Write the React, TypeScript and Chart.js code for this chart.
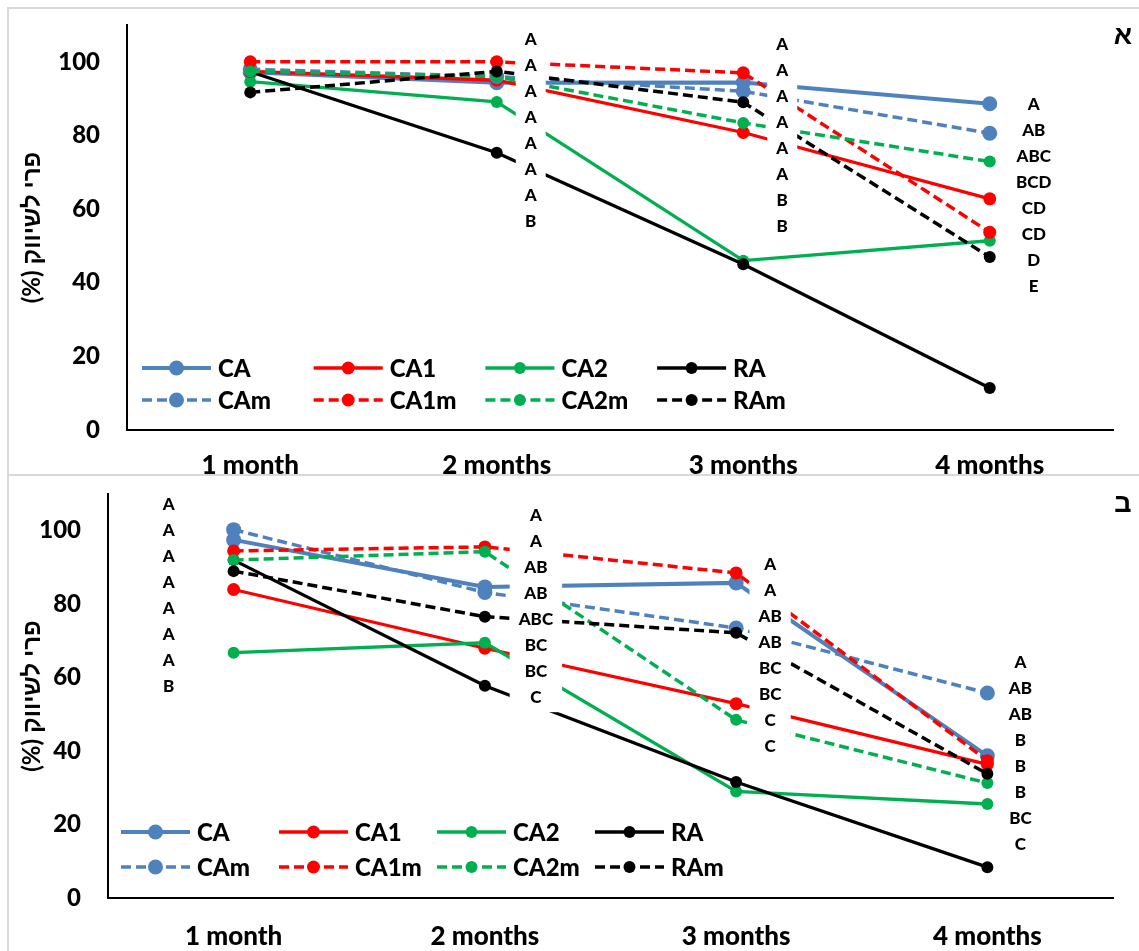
import React, { useEffect, useRef } from 'react';
import { Chart, registerables } from 'chart.js';

Chart.register(...registerables);

// ---------- data ----------
const categories = ['1 month', '2 months', '3 months', '4 months'];
const seriesNames = ['CA', 'CA1', 'CA2', 'RA', 'CAm', 'CA1m', 'CA2m', 'RAm'];
const yTickValues = [0, 20, 40, 60, 80, 100];
const yAxisTitle = 'פרי לשיווק (%)';
const panelALabel = 'א';
const panelBLabel = 'ב';

// Panel א
const aCA = [97.2, 94.3, 94.4, 88.6];
const aCA1 = [97.4, 95.0, 80.8, 62.8];
const aCA2 = [94.6, 89.1, 46.0, 51.4];
const aRA = [97.3, 75.3, 45.0, 11.4];
const aCAm = [98.0, 96.0, 92.0, 80.6];
const aCA1m = [100, 100, 97.0, 53.7];
const aCA2m = [97.4, 96.0, 83.4, 72.9];
const aRAm = [91.7, 97.4, 89.0, 47.0];

// Panel ב
const bCA = [97.5, 84.7, 85.8, 38.7];
const bCA1 = [84.0, 68.0, 52.9, 36.4];
const bCA2 = [66.8, 69.5, 29.0, 25.6];
const bRA = [92.0, 57.8, 31.6, 8.4];
const bCAm = [100.3, 83.2, 73.5, 55.8];
const bCA1m = [94.5, 95.6, 88.5, 37.4];
const bCA2m = [92.0, 94.3, 48.5, 31.3];
const bRAm = [89.0, 76.6, 72.2, 33.8];

// significance letters
const aLetters2 = ['A', 'A', 'A', 'A', 'A', 'A', 'A', 'B'];
const aLetters3 = ['A', 'A', 'A', 'A', 'A', 'A', 'B', 'B'];
const aLetters4 = ['A', 'AB', 'ABC', 'BCD', 'CD', 'CD', 'D', 'E'];
const bLetters1 = ['A', 'A', 'A', 'A', 'A', 'A', 'A', 'B'];
const bLetters2 = ['A', 'A', 'AB', 'AB', 'ABC', 'BC', 'BC', 'C'];
const bLetters3 = ['A', 'A', 'AB', 'AB', 'BC', 'BC', 'C', 'C'];
const bLetters4 = ['A', 'AB', 'AB', 'B', 'B', 'B', 'BC', 'C'];

// ---------- styles ----------
const FONT = 'Lato, "Liberation Sans", "DejaVu Sans", sans-serif';
const W = 900;
const seriesColors = ['#4f81bd', '#ff0000', '#00b050', '#000000', '#4f81bd', '#ff0000', '#00b050', '#000000'];
const seriesDashed = [false, false, false, false, true, true, true, true];
const seriesPointRadius = [7.5, 6.5, 6, 6, 7.5, 6.5, 6, 6];
const seriesLineWidth = [4, 3.3, 3.3, 3.3, 3.5, 3.5, 3.5, 3.5];
const DASH = [10, 5];

type LetterGroup = { index: number; letters: string[]; anchor: number; dx: number };

type PanelDef = {
  series: number[][];
  corner: string;
  height: number;
  top: number;
  padTop: number;
  yWidth: number;
  xHeight: number;
  xPad: number;
  groups: LetterGroup[];
  legend: { left: number; colWidth: number; rows: number[] };
};

const panelA: PanelDef = {
  series: [aCA, aCA1, aCA2, aRA, aCAm, aCA1m, aCA2m, aRAm],
  corner: panelALabel,
  height: 467,
  top: 8,
  padTop: 17,
  yWidth: 119,
  xHeight: 45,
  xPad: 20,
  groups: [
    { index: 1, letters: aLetters2, anchor: 106, dx: 34 },
    { index: 2, letters: aLetters3, anchor: 104.6, dx: 39 },
    { index: 3, letters: aLetters4, anchor: 88.3, dx: 44 },
  ],
  legend: { left: 15, colWidth: 171.7, rows: [-62, -30] },
};

const panelB: PanelDef = {
  series: [bCA, bCA1, bCA2, bRA, bCAm, bCA1m, bCA2m, bRAm],
  corner: panelBLabel,
  height: 475,
  top: 476,
  padTop: 18,
  yWidth: 100,
  xHeight: 53,
  xPad: 23,
  groups: [
    { index: 0, letters: bLetters1, anchor: 107.1, dx: -65 },
    { index: 1, letters: bLetters2, anchor: 104.1, dx: 51 },
    { index: 2, letters: bLetters3, anchor: 90.7, dx: 34 },
    { index: 3, letters: bLetters4, anchor: 64.0, dx: 33 },
  ],
  legend: { left: 13, colWidth: 158, rows: [-66, -31] },
};

function makePlugins(p: PanelDef) {
  const letters = {
    id: 'letters',
    afterDatasetsDraw(chart: any) {
      const { ctx, scales } = chart;
      const x = scales.x;
      const y = scales.y;
      const fs = 17;
      const step = 26;
      ctx.save();
      ctx.font = `${W} ${fs}px ${FONT}`;
      for (const g of p.groups) {
        const cx = x.getPixelForValue(g.index) + g.dx;
        const y0 = y.getPixelForValue(g.anchor);
        const widest = Math.max(...g.letters.map((l) => ctx.measureText(l).width));
        const w = widest + 18;
        const h = (g.letters.length - 1) * step + fs + 12;
        ctx.fillStyle = '#ffffff';
        ctx.fillRect(cx - w / 2, y0 - fs / 2 - 6, w, h);
        ctx.fillStyle = '#000000';
        ctx.textAlign = 'center';
        ctx.textBaseline = 'middle';
        g.letters.forEach((l, i) => ctx.fillText(l, cx, y0 + i * step));
      }
      ctx.restore();
    },
  };

  const legend = {
    id: 'innerLegend',
    afterDatasetsDraw(chart: any) {
      const { ctx, chartArea } = chart;
      const lineLen = 69;
      chart.data.datasets.forEach((ds: any, i: number) => {
        const col = i % 4;
        const row = Math.floor(i / 4);
        const x0 = chartArea.left + p.legend.left + col * p.legend.colWidth;
        const yy = chartArea.bottom + p.legend.rows[row];
        ctx.save();
        ctx.strokeStyle = ds.borderColor;
        ctx.lineWidth = ds.borderWidth;
        ctx.setLineDash(ds.borderDash || []);
        ctx.beginPath();
        ctx.moveTo(x0, yy);
        ctx.lineTo(x0 + lineLen, yy);
        ctx.stroke();
        ctx.setLineDash([]);
        ctx.fillStyle = ds.pointBackgroundColor;
        ctx.beginPath();
        ctx.arc(x0 + lineLen / 2, yy, ds.pointRadius, 0, Math.PI * 2);
        ctx.fill();
        ctx.fillStyle = '#000000';
        ctx.font = `${W} 24px ${FONT}`;
        ctx.textAlign = 'left';
        ctx.textBaseline = 'middle';
        ctx.fillText(ds.label, x0 + lineLen + 7, yy + 1);
        ctx.restore();
      });
    },
  };

  const decor = {
    id: 'decor',
    afterDraw(chart: any) {
      const { ctx, chartArea, width } = chart;
      ctx.save();
      // y axis title (RTL)
      ctx.translate(24, (chartArea.top + chartArea.bottom) / 2);
      ctx.rotate(-Math.PI / 2);
      ctx.direction = 'rtl';
      ctx.textAlign = 'center';
      ctx.textBaseline = 'middle';
      ctx.fillStyle = '#000000';
      ctx.font = `bold 24px ${FONT}`;
      ctx.fillText(yAxisTitle, 0, 0);
      ctx.restore();
      // panel label
      ctx.save();
      ctx.direction = 'rtl';
      ctx.textAlign = 'center';
      ctx.textBaseline = 'middle';
      ctx.fillStyle = '#000000';
      ctx.font = `bold 27px "Liberation Sans", "DejaVu Sans", sans-serif`;
      ctx.fillText(p.corner, width - 16, 29);
      ctx.restore();
    },
  };
  return [letters, legend, decor];
}

function buildConfig(p: PanelDef): any {
  const datasets = p.series.map((vals, i) => ({
    label: seriesNames[i],
    data: vals,
    borderColor: seriesColors[i],
    backgroundColor: seriesColors[i],
    pointBackgroundColor: seriesColors[i],
    pointBorderColor: seriesColors[i],
    pointBorderWidth: 0,
    pointRadius: seriesPointRadius[i],
    pointHoverRadius: seriesPointRadius[i],
    borderWidth: seriesLineWidth[i],
    borderDash: seriesDashed[i] ? DASH : [],
    tension: 0,
    fill: false,
    order: seriesNames.length - i,
  }));

  return {
    type: 'line',
    data: { labels: categories, datasets },
    options: {
      responsive: false,
      maintainAspectRatio: false,
      animation: false,
      events: [],
      layout: { padding: { left: 0, right: 26, top: p.padTop, bottom: 0 } },
      plugins: {
        legend: { display: false },
        tooltip: { enabled: false },
        title: { display: false },
      },
      scales: {
        x: {
          type: 'category',
          offset: true,
          grid: { display: false, drawTicks: false },
          border: { display: true, color: '#000000', width: 2 },
          ticks: {
            color: '#000000',
            font: { family: FONT, size: 26, weight: W },
            padding: p.xPad,
            maxRotation: 0,
            autoSkip: false,
          },
          afterFit: (s: any) => {
            s.height = p.xHeight;
            s.paddingLeft = 0;
            s.paddingRight = 0;
          },
        },
        y: {
          type: 'linear',
          min: 0,
          max: 110,
          grid: { display: false, drawTicks: false },
          border: { display: true, color: '#000000', width: 2 },
          ticks: {
            color: '#000000',
            font: { family: FONT, size: 24, weight: W },
            padding: 27,
          },
          afterBuildTicks: (s: any) => {
            s.ticks = yTickValues.map((v) => ({ value: v }));
          },
          afterFit: (s: any) => {
            s.width = p.yWidth;
            s.paddingTop = 0;
            s.paddingBottom = 0;
          },
        },
      },
    },
    plugins: makePlugins(p),
  };
}

function Panel({ p }: { p: PanelDef }) {
  const ref = useRef<HTMLCanvasElement>(null);
  useEffect(() => {
    if (!ref.current) return;
    const chart = new Chart(ref.current, buildConfig(p));
    return () => chart.destroy();
  }, [p]);
  return (
    <canvas
      ref={ref}
      width={1131}
      height={p.height}
      style={{ position: 'absolute', left: 8, top: p.top, width: 1131, height: p.height, display: 'block' }}
    />
  );
}

export default function App() {
  const line = '#d9d9d9';
  return (
    <div
      style={{
        position: 'fixed',
        left: 0,
        top: 0,
        width: 1139,
        height: 951,
        overflow: 'hidden',
        background: '#ffffff',
      }}
    >
      <Panel p={panelA} />
      <Panel p={panelB} />
      <div style={{ position: 'absolute', left: 7, top: 7, width: 1132, height: 2, background: line }} />
      <div style={{ position: 'absolute', left: 7, top: 7, width: 2, height: 944, background: line }} />
      <div style={{ position: 'absolute', left: 7, top: 474, width: 1132, height: 2, background: line }} />
    </div>
  );
}
